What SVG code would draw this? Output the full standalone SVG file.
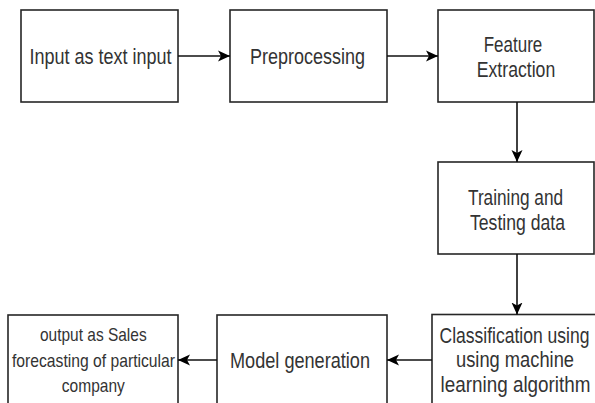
<svg xmlns="http://www.w3.org/2000/svg" width="595" height="403" viewBox="0 0 595 403">
<style>
.box{fill:#fff;stroke:#262626;stroke-width:1.6}
.lbl{font-family:"Liberation Sans",Arial,sans-serif;font-size:17.5px;fill:#333;text-anchor:middle}
.sm{font-size:15.5px}
.con{fill:none;stroke:#111;stroke-width:1.6}
</style>
<defs>
<marker id="arr" markerUnits="userSpaceOnUse" markerWidth="14" markerHeight="14" viewBox="0 0 14 14" refX="12" refY="7" orient="auto">
<path d="M0,1.5 L12,7 L0,12.5 L3,7 z" fill="#000"/>
</marker>
</defs>
<rect width="595" height="403" fill="#fff"/>
<g id="input">
<rect class="box" x="21" y="10" width="157" height="92"/>
<text class="lbl" transform="translate(100.5,64) scale(1,1.22)" textLength="142" lengthAdjust="spacingAndGlyphs">Input as text input</text>
</g>
<g id="preprocessing">
<rect class="box" x="230" y="10" width="157" height="92"/>
<text class="lbl" transform="translate(307.5,64) scale(1,1.22)" textLength="115" lengthAdjust="spacingAndGlyphs">Preprocessing</text>
</g>
<g id="feature">
<rect class="box" x="438" y="10" width="156" height="92"/>
<text class="lbl" transform="translate(513,51.7) scale(1,1.22)" textLength="58.5" lengthAdjust="spacingAndGlyphs">Feature</text>
<text class="lbl" transform="translate(516,76.7) scale(1,1.22)" textLength="78.5" lengthAdjust="spacingAndGlyphs">Extraction</text>
</g>
<g id="training">
<rect class="box" x="438" y="162" width="156" height="92"/>
<text class="lbl" transform="translate(515.5,205) scale(1,1.22)" textLength="95" lengthAdjust="spacingAndGlyphs">Training and</text>
<text class="lbl" transform="translate(517.5,230) scale(1,1.22)" textLength="95" lengthAdjust="spacingAndGlyphs">Testing data</text>
</g>
<g id="classification">
<rect class="box" x="432" y="314.5" width="170" height="100"/>
<text class="lbl" transform="translate(514.5,342.5) scale(1,1.22)" textLength="150" lengthAdjust="spacingAndGlyphs">Classification using</text>
<text class="lbl" transform="translate(515,367) scale(1,1.22)" textLength="118" lengthAdjust="spacingAndGlyphs">using machine</text>
<text class="lbl" transform="translate(515.5,391.7) scale(1,1.22)" textLength="150" lengthAdjust="spacingAndGlyphs">learning algorithm</text>
</g>
<g id="model">
<rect class="box" x="217" y="315" width="170" height="100"/>
<text class="lbl" transform="translate(300,367.7) scale(1,1.22)" textLength="140" lengthAdjust="spacingAndGlyphs">Model generation</text>
</g>
<g id="output">
<rect class="box" x="8" y="315" width="170" height="100"/>
<text class="lbl sm" transform="translate(93.3,341) scale(1,1.2)" textLength="106.7" lengthAdjust="spacingAndGlyphs">output as Sales</text>
<text class="lbl sm" transform="translate(93.5,366.7) scale(1,1.2)" textLength="163" lengthAdjust="spacingAndGlyphs">forecasting of particular</text>
<text class="lbl sm" transform="translate(93.3,391.7) scale(1,1.2)" textLength="63" lengthAdjust="spacingAndGlyphs">company</text>
</g>
<g id="connectors">
<line class="con" x1="178" y1="56" x2="230" y2="56" marker-end="url(#arr)"/>
<line class="con" x1="387" y1="56" x2="438" y2="56" marker-end="url(#arr)"/>
<line class="con" x1="517" y1="102" x2="517" y2="162" marker-end="url(#arr)"/>
<line class="con" x1="517" y1="254" x2="517" y2="314.5" marker-end="url(#arr)"/>
<line class="con" x1="432" y1="360" x2="387" y2="360" marker-end="url(#arr)"/>
<line class="con" x1="217" y1="360" x2="178" y2="360" marker-end="url(#arr)"/>
</g>
</svg>
